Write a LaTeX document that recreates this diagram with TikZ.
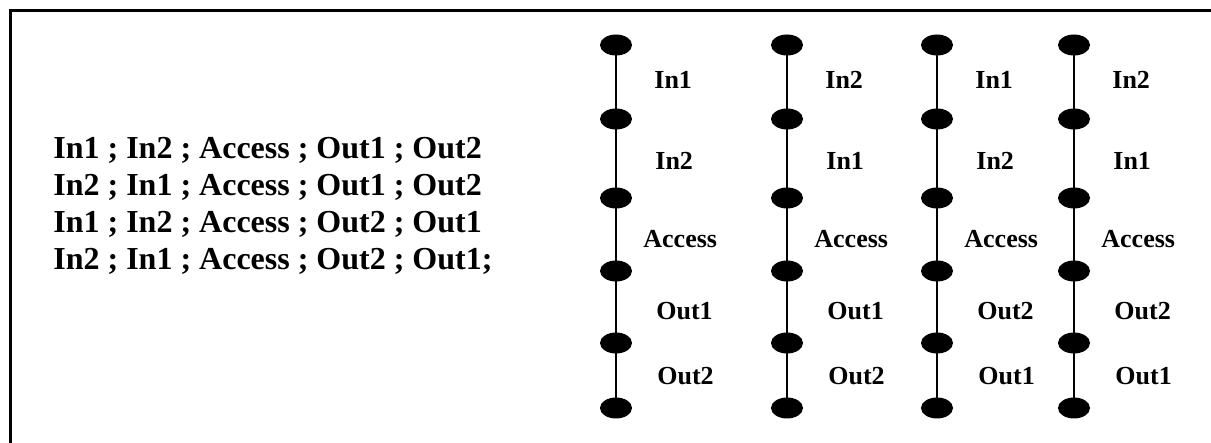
\documentclass[tikz,border=0pt]{standalone}
\usepackage{fontspec}
\setmainfont{Liberation Serif}
\usetikzlibrary{shapes.geometric}

\begin{document}
\begin{tikzpicture}[x = 0.5pt, y = -0.5pt,
    dot/.style = {ellipse, fill = black, inner sep = 0pt, minimum width = 16pt, minimum height = 10.5pt},
    lbl/.style = {anchor = west, inner sep = 0pt, font = \fontsize{13}{15}\selectfont\bfseries},
    seq/.style = {anchor = base west, inner sep = 0pt, font = \fontsize{16}{18}\selectfont\bfseries}]
  \useasboundingbox (0,0) rectangle (1211,443);
  % open frame, top and left only
  \draw [line width = 1.5pt] (10.5,443) -- (10.5,10.5) -- (1211,10.5);
  % the four orderings
  \node [seq] (row1) at (53,159) {In1 ; In2 ; Access ; Out1 ; Out2};
  \node [seq] (row2) at (53,196) {In2 ; In1 ; Access ; Out1 ; Out2};
  \node [seq] (row3) at (53,233) {In1 ; In2 ; Access ; Out2 ; Out1};
  \node [seq] (row4) at (53,270) {In2 ; In1 ; Access ; Out2 ; Out1;};
  % one column of dots per ordering
  \foreach \c/\x/\la/\lb/\lc/\ld in {1/616/In1/In2/Out1/Out2, 2/787/In2/In1/Out1/Out2,
      3/937/In1/In2/Out2/Out1, 4/1074/In2/In1/Out2/Out1} {
    \foreach \i/\y in {1/45, 2/119, 3/198, 4/271, 5/343, 6/408}
      \node [dot] (c\c-d\i) at (\x,\y) {};
    \foreach \i [count = \j from 2] in {1,...,5}
      \draw [line width = 1pt] (c\c-d\i.center) -- (c\c-d\j.center);
    \node [lbl] (c\c-t1) at (\x+38,80) {\la};
    \node [lbl] (c\c-t2) at (\x+39,161) {\lb};
    \node [lbl] (c\c-t3) at (\x+27,239) {Access};
    \node [lbl] (c\c-t4) at (\x+40,311) {\lc};
    \node [lbl] (c\c-t5) at (\x+41,376) {\ld};
  }
\end{tikzpicture}
\end{document}
